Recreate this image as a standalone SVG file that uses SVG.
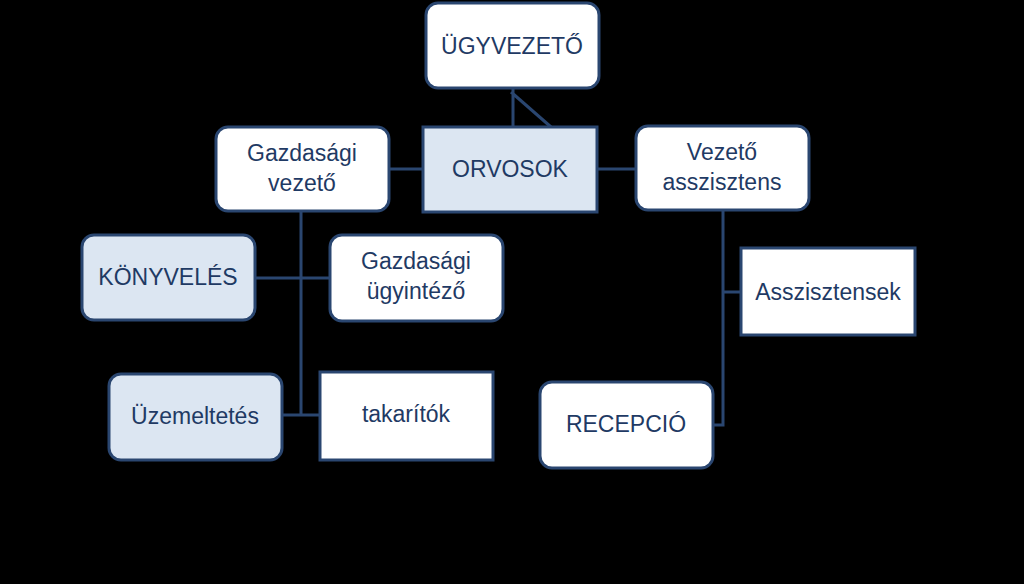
<svg xmlns="http://www.w3.org/2000/svg" width="1024" height="584" viewBox="0 0 1024 584">
<style>
.n{fill:#fff;stroke:#2a4670;stroke-width:3}
.l{fill:#dce6f2}
.t{font-family:"Liberation Sans",Arial,sans-serif;font-size:23px;fill:#1f3a64;text-anchor:middle}
.c{stroke:#2a4670;stroke-width:3;fill:none}
</style>
<rect width="1024" height="584" fill="#000"/>
<g id="connectors">
<path class="c" d="M513 88V127M511 92L551 127M389 169H423M597 169H636M301 211V415H320M255 278H330M283 415H301M723 210V425H713M723 292H741"/>
</g>
<g id="ugyvezeto"><rect class="n" x="426" y="3" width="173" height="85" rx="12"/><text class="t" x="512" y="54">ÜGYVEZETŐ</text></g>
<g id="gazd-vezeto"><rect class="n" x="216" y="127" width="173" height="84" rx="12"/><text class="t" x="302" y="161">Gazdasági</text><text class="t" x="302" y="191">vezető</text></g>
<g id="orvosok"><rect class="n l" x="423" y="127" width="174" height="85"/><text class="t" x="510" y="177">ORVOSOK</text></g>
<g id="vezeto-asszisztens"><rect class="n" x="636" y="126" width="173" height="84" rx="12"/><text class="t" x="722" y="160">Vezető</text><text class="t" x="722" y="190">asszisztens</text></g>
<g id="konyveles"><rect class="n l" x="82" y="235" width="173" height="85" rx="12"/><text class="t" x="168" y="285">KÖNYVELÉS</text></g>
<g id="gazd-ugyintezo"><rect class="n" x="330" y="235" width="173" height="86" rx="12"/><text class="t" x="416" y="269">Gazdasági</text><text class="t" x="416" y="299">ügyintéző</text></g>
<g id="asszisztensek"><rect class="n" x="741" y="248" width="174" height="87"/><text class="t" x="828" y="300">Asszisztensek</text></g>
<g id="uzemeltetes"><rect class="n l" x="109" y="374" width="173" height="86" rx="12"/><text class="t" x="195" y="424">Üzemeltetés</text></g>
<g id="takaritok"><rect class="n" x="320" y="372" width="173" height="88"/><text class="t" x="406" y="422">takarítók</text></g>
<g id="recepcio"><rect class="n" x="540" y="382" width="173" height="86" rx="12"/><text class="t" x="626" y="432">RECEPCIÓ</text></g>
</svg>
